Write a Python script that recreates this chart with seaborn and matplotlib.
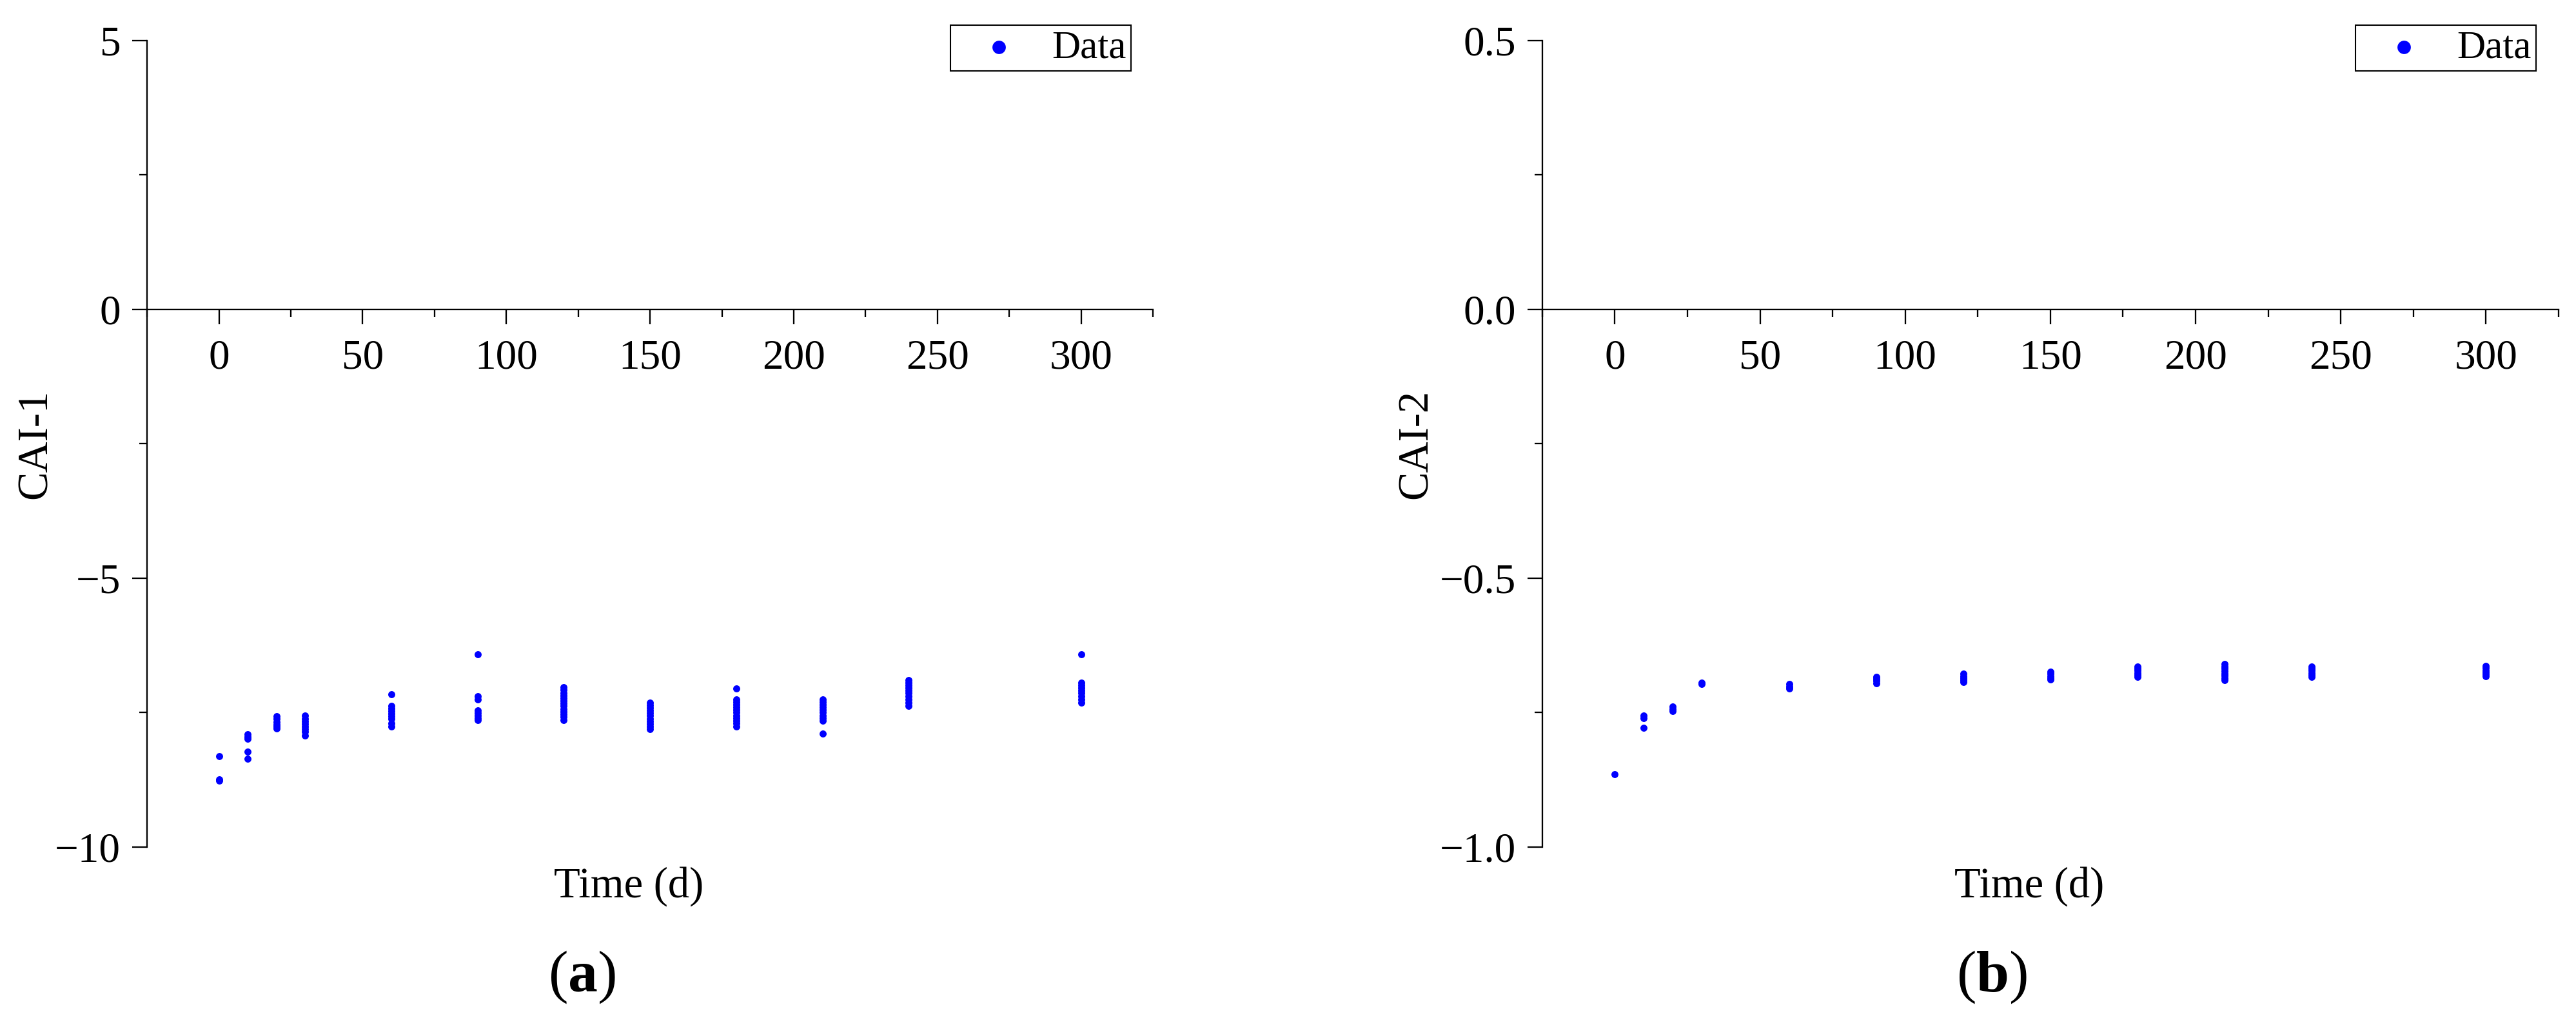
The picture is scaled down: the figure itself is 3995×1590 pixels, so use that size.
import seaborn as sns
import matplotlib.pyplot as plt
import pandas as pd
from matplotlib.ticker import MultipleLocator

# ---- data ----
# panel (a): CAI-1
time_a = ([0] * 3 + [10] * 5 + [20] * 6 + [30] * 8 + [60] * 9 + [90] * 8
          + [120] * 13 + [150] * 11 + [180] * 12 + [210] * 10 + [240] * 10 + [300] * 9)
cai1 = [
    -8.31, -8.74, -8.77,
    -7.90, -7.95, -7.99, -8.22, -8.36,
    -7.57, -7.62, -7.67, -7.72, -7.76, -7.79,
    -7.56, -7.61, -7.66, -7.71, -7.76, -7.81, -7.86, -7.92,
    -7.16, -7.37, -7.42, -7.47, -7.52, -7.57, -7.62, -7.70, -7.76,
    -6.41, -7.20, -7.25, -7.46, -7.51, -7.56, -7.60, -7.64,
    -7.03, -7.08, -7.13, -7.18, -7.23, -7.28, -7.33, -7.38, -7.43, -7.48, -7.53, -7.58, -7.64,
    -7.31, -7.36, -7.41, -7.46, -7.51, -7.56, -7.61, -7.66, -7.71, -7.76, -7.81,
    -7.05, -7.25, -7.30, -7.35, -7.40, -7.45, -7.50, -7.55, -7.60, -7.65, -7.70, -7.76,
    -7.25, -7.30, -7.35, -7.40, -7.45, -7.50, -7.55, -7.60, -7.65, -7.89,
    -6.89, -6.94, -6.99, -7.04, -7.09, -7.14, -7.19, -7.25, -7.31, -7.37,
    -6.41, -6.94, -6.99, -7.04, -7.09, -7.14, -7.20, -7.26, -7.32,
]

# panel (b): CAI-2
time_b = ([0] * 1 + [10] * 3 + [20] * 3 + [30] * 2 + [60] * 3 + [90] * 4
          + [120] * 5 + [150] * 5 + [180] * 6 + [210] * 8 + [240] * 6 + [300] * 6)
cai2 = [
    -0.865,
    -0.756, -0.760, -0.778,
    -0.739, -0.743, -0.747,
    -0.694, -0.697,
    -0.697, -0.701, -0.705,
    -0.683, -0.687, -0.691, -0.695,
    -0.678, -0.682, -0.686, -0.690, -0.693,
    -0.674, -0.678, -0.682, -0.686, -0.688,
    -0.664, -0.668, -0.672, -0.676, -0.680, -0.683,
    -0.660, -0.664, -0.668, -0.673, -0.677, -0.681, -0.686, -0.690,
    -0.664, -0.668, -0.672, -0.676, -0.680, -0.683,
    -0.663, -0.667, -0.671, -0.675, -0.679, -0.682,
]

df_a = pd.DataFrame({'Time': time_a, 'CAI': cai1})
df_b = pd.DataFrame({'Time': time_b, 'CAI': cai2})

sns.set_style("ticks")
plt.rcParams['font.family'] = ['Liberation Serif', 'DejaVu Serif']
plt.rcParams['mathtext.fontset'] = 'custom'
plt.rcParams['mathtext.rm'] = 'Liberation Serif'
plt.rcParams['mathtext.bf'] = 'Liberation Serif:bold'
# seaborn greys the text, the reference is plain black
plt.rcParams['text.color'] = 'black'
plt.rcParams['axes.labelcolor'] = 'black'
plt.rcParams['xtick.color'] = 'black'
plt.rcParams['ytick.color'] = 'black'
plt.rcParams['legend.labelcolor'] = 'black'

fig = plt.figure(figsize=(39.95, 15.9), dpi=100)
ax1 = fig.add_axes([0.0571, 0.1736, 0.3905, 0.7868])
ax2 = fig.add_axes([0.5987, 0.1736, 0.3945, 0.7868])


def style_panel(ax, data, ylabel, ylim, ystep, panel_label, label_x, ylab_x):
    sns.scatterplot(data=data, x='Time', y='CAI', ax=ax, color='#0000FF',
                    s=62, linewidth=0, label='Data')
    ax.set_xlim(-25, 325)
    ax.set_ylim(*ylim)
    ax.xaxis.set_major_locator(MultipleLocator(50))
    ax.xaxis.set_minor_locator(MultipleLocator(25))
    ax.yaxis.set_major_locator(MultipleLocator(ystep))
    ax.yaxis.set_minor_locator(MultipleLocator(ystep / 2))
    ax.spines['bottom'].set_position(('data', 0))
    ax.spines['top'].set_visible(False)
    ax.spines['right'].set_visible(False)
    for sp in ('bottom', 'left'):
        ax.spines[sp].set_linewidth(1.65)
        ax.spines[sp].set_color('black')
    ax.tick_params(which='major', direction='out', length=16.5, width=1.65,
                   labelsize=47, color='black', labelcolor='black')
    ax.tick_params(which='minor', direction='out', length=8.6, width=1.65, color='black')
    ax.tick_params(axis='x', which='major', pad=17)
    ax.tick_params(axis='y', which='major', pad=13)
    ax.set_xlabel('')
    ax.set_ylabel('')
    ax.text(0.479, -0.062, 'Time (d)', transform=ax.transAxes, ha='center',
            va='baseline', fontsize=48, color='black')
    ax.text(ylab_x, 0.5, ylabel, transform=ax.transAxes, ha='center',
            va='center', rotation=90, fontsize=48, color='black')
    fig.text(label_x, 0.0327, panel_label, ha='center', va='baseline',
             fontsize=66, color='black')
    leg = ax.legend(loc='upper right', bbox_to_anchor=(0.978, 1.019), fontsize=44,
                    frameon=True, fancybox=False, framealpha=1, markerscale=1.9,
                    borderpad=0.12, handlelength=2.2, handletextpad=0.25,
                    borderaxespad=0)
    leg.get_frame().set_edgecolor('black')
    leg.get_frame().set_linewidth(1.5)


style_panel(ax1, df_a, 'CAI-1', (-10, 5), 5, r'($\mathbf{a}$)', 0.2258, -0.111)
style_panel(ax2, df_b, 'CAI-2', (-1.0, 0.5), 0.5, r'($\mathbf{b}$)', 0.7732, -0.124)

plt.savefig('out.png', dpi=100, facecolor='white')
